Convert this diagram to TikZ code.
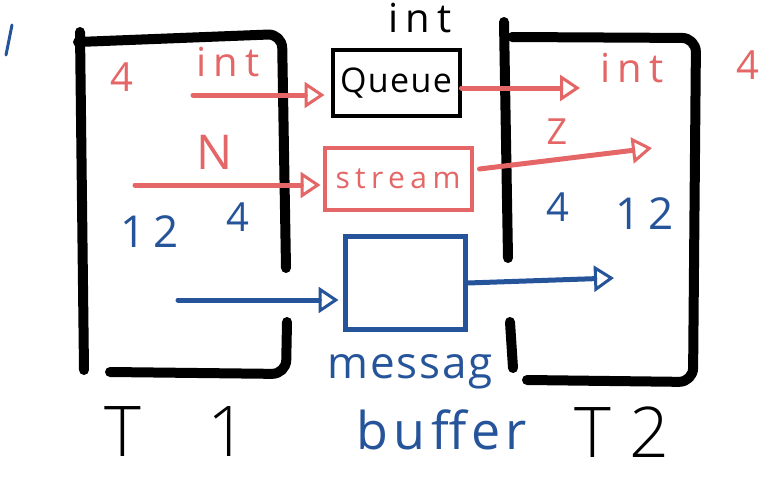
\documentclass[tikz,border=0pt]{standalone}
\usepackage{fontspec}
\setmainfont{Open Sans}
\newfontfamily\thinfont[LetterSpace=25]{Open Sans Light}
\newfontfamily\widefont[LetterSpace=18]{Open Sans}
\newfontfamily\midfont[LetterSpace=4]{Open Sans}
\newfontfamily\bufffont[LetterSpace=10]{Open Sans}
\usetikzlibrary{arrows.meta,calc}
\definecolor{pen}{RGB}{0,0,0}
\definecolor{rd}{RGB}{229,102,102}
\definecolor{bl}{RGB}{38,84,154}
\tikzset{
  wall/.style={draw=pen, line width=10pt, line cap=round, line join=round, rounded corners=14pt},
  flow/.style={line width=5pt, line cap=round, -{Triangle[open, length=20pt, width=26pt, line width=3pt]}},
  chan/.style={draw, line width=4pt, inner sep=0pt, font=\midfont\fontsize{34}{36}\selectfont},
  lbl/.style={inner sep=0pt, font=\widefont\fontsize{40}{42}\selectfont},
  big/.style={inner sep=0pt, font=\thinfont\fontsize{70}{72}\selectfont},
}
\begin{document}
\begin{tikzpicture}[x=1pt, y=-1pt]
\useasboundingbox (0,0) rectangle (774,477);
\fill[white] (0,0) rectangle (774,477);

% blue tick at top left
\draw[bl, line width=3pt, line cap=round] (12,25) -- (6,55);

% thread T1
\draw[wall] (80,32) -- (84,370);
\draw[wall] (78,42) -- (282,34) -- (286,268);
\draw[wall] (287,322) -- (286,374) -- (110,372);

% thread T2
\draw[wall] (504,22) -- (508,258);
\draw[wall] (510,322) -- (513,368);
\draw[wall] (512,37) -- (696,38) -- (693,382) -- (527,380);

% channels
\node[chan, draw=pen, minimum width=127pt, minimum height=66pt] (queue) at (396,83) {Queue};
\node[chan, draw=rd, text=rd, minimum width=147pt, minimum height=62pt, font=\widefont\fontsize{30}{32}\selectfont] (stream) at (398,179) {stream};
\node[chan, draw=bl, line width=5pt, minimum width=120pt, minimum height=93pt] (buf) at (405,283) {};

% connector end points
\coordinate (q0) at (193,95);
\coordinate (s0) at (135,185);
\coordinate (b0) at (178,300);
\coordinate (q1) at (580,88);
\coordinate (s1) at (652,148);
\coordinate (b1) at (614,278);

% connectors
\draw[flow, rd, shorten >=6pt] (q0) -- (q0 -| queue.west);
\draw[flow, rd, shorten >=2pt] (s0) -- (s0 -| stream.west);
\draw[flow, bl, shorten >=4pt] (b0) -- (b0 -| buf.west);
\draw[flow, rd] (queue.east |- q1) -- (q1);
\draw[flow, rd] ($(stream.east)+(6,-10)$) -- (s1);
\draw[flow, bl] (buf.east) -- (b1);

% labels
\node[lbl, rd] (l4a) at (122,77) {4};
\node[lbl, rd] (lint1) at (228,62) {int};
\node[lbl, rd, font=\widefont\fontsize{48}{50}\selectfont] (lN) at (215,152) {N};
\node[lbl, bl, font=\widefont\fontsize{44}{46}\selectfont] (l12a) at (150,232) {12};
\node[lbl, bl] (l4b) at (238,217) {4};
\node[lbl, pen] (lint0) at (420,18) {int};
\node[lbl, rd] (lint2) at (632,68) {int};
\node[lbl, rd] (l4c) at (748,65) {4};
\node[lbl, rd, font=\widefont\fontsize{36}{38}\selectfont] (lZ) at (557,132) {Z};
\node[lbl, bl] (l4d) at (558,207) {4};
\node[lbl, bl, font=\widefont\fontsize{44}{46}\selectfont] (l12b) at (645,214) {12};
\node[lbl, bl, font=\midfont\fontsize{44}{46}\selectfont] (lmsg) at (410,372) {messag};
\node[lbl, bl, font=\bufffont\fontsize{52}{54}\selectfont] (lbuf) at (442,430) {buffer};
\node[big] (lT1) at (176,432) {T\hspace{66pt}1};
\node[big] (lT2) at (622,432) {T2};
\end{tikzpicture}
\end{document}
